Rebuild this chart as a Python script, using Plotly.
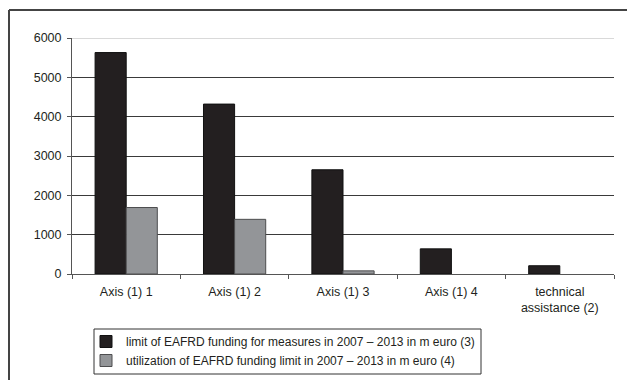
import plotly.graph_objects as go

# Categories and EAFRD funding values (m euro)
categories = ["Axis (1) 1", "Axis (1) 2", "Axis (1) 3", "Axis (1) 4", "technical<br>assistance (2)"]
limit_values = [5630, 4320, 2650, 640, 210]
utilization_values = [1690, 1390, 80, 0, 0]
series_names = [
    "limit of EAFRD funding for measures in 2007 \u2013 2013 in m euro (3)",
    "utilization of EAFRD funding limit in 2007 \u2013 2013 in m euro (4)",
]
y_ticks = [0, 1000, 2000, 3000, 4000, 5000, 6000]
Y_MAX = 6000

W, H = 627, 380
ML, MR, MT, MB = 72, 13, 38, 106
PW, PH = W - ML - MR, H - MT - MB
TEXT = "#231f20"
FONT = "Liberation Sans, Arial, sans-serif"


def px_x(x):
    """Pixel column -> paper x."""
    return (x - ML) / PW


def px_y(y):
    """Pixel row -> paper y."""
    return (H - MB - y) / PH


def outline_widths(values):
    # no outline on empty bars, so a zero value leaves no sliver on the axis
    return [1 if v > 0 else 0 for v in values]


fig = go.Figure()
fig.add_trace(go.Bar(
    x=categories, y=limit_values, name=series_names[0],
    marker=dict(color="#231f20",
                line=dict(color="#111111", width=outline_widths(limit_values))),
))
fig.add_trace(go.Bar(
    x=categories, y=utilization_values, name=series_names[1],
    marker=dict(color="#939598",
                line=dict(color="#4d4d4f", width=outline_widths(utilization_values))),
))

fig.update_layout(
    width=W, height=H,
    margin=dict(l=ML, r=MR, t=MT, b=MB, pad=0, autoexpand=False),
    paper_bgcolor="white", plot_bgcolor="white",
    font=dict(family=FONT, size=12.5, color=TEXT),
    barmode="group", bargap=0.426, bargroupgap=0,
    showlegend=True,
    legend=dict(
        x=px_x(86), y=px_y(327), xanchor="left", yanchor="top",
        borderwidth=0, bgcolor="rgba(0,0,0,0)",
        font=dict(family=FONT, size=12, color=TEXT),
        tracegroupgap=0, itemwidth=30,
    ),
)

fig.update_xaxes(
    type="category", tickangle=0,
    showline=True, linecolor="#555555", linewidth=1,
    ticks="outside", tickson="boundaries", ticklen=4, tickcolor="#555555",
    ticklabelstandoff=6,
    showgrid=False,
)
fig.update_yaxes(
    range=[0, Y_MAX], tickvals=y_ticks,
    showline=True, linecolor="#555555", linewidth=1,
    ticks="outside", ticklen=4, tickcolor="#555555",
    ticklabelstandoff=3,
    showgrid=True, gridcolor="#3a3a3a", gridwidth=1,
    zeroline=False,
)

# Top gridline is drawn light, as on the original sheet
fig.add_shape(type="line", xref="paper", yref="y", x0=0, x1=1, y0=Y_MAX, y1=Y_MAX,
              line=dict(color="#d9d9d9", width=2), layer="above")

# Legend box
fig.add_shape(type="rect", xref="paper", yref="paper",
              x0=px_x(94), x1=px_x(481), y0=px_y(329), y1=px_y(374),
              line=dict(color="#333333", width=1), fillcolor="rgba(0,0,0,0)")

# Frame around the chart (left and top edges)
fig.add_shape(type="line", xref="paper", yref="paper",
              x0=px_x(9), x1=px_x(W), y0=px_y(10), y1=px_y(10),
              line=dict(color="#444444", width=2))
fig.add_shape(type="line", xref="paper", yref="paper",
              x0=px_x(9), x1=px_x(9), y0=px_y(10), y1=px_y(H),
              line=dict(color="#444444", width=2))

fig.write_html("out.html")
